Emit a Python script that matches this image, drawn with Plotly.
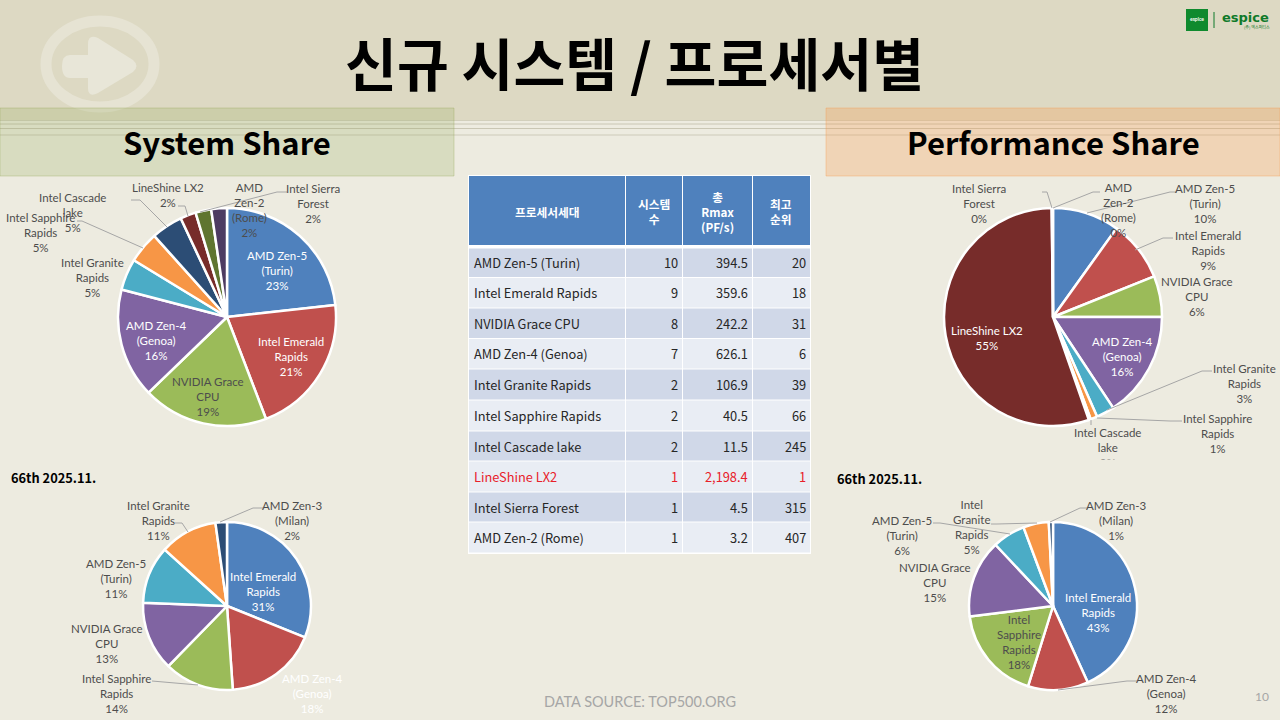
import plotly.graph_objects as go

# table / pie data
processors = ["AMD Zen-5 (Turin)", "Intel Emerald Rapids", "NVIDIA Grace CPU", "AMD Zen-4 (Genoa)",
              "Intel Granite Rapids", "Intel Sapphire Rapids", "Intel Cascade lake", "LineShine LX2",
              "Intel Sierra Forest", "AMD Zen-2 (Rome)"]
system_counts = [10, 9, 8, 7, 2, 2, 2, 1, 1, 1]
rmax_values = [394.5, 359.6, 242.2, 626.1, 106.9, 40.5, 11.5, 2198.4, 4.5, 3.2]
best_ranks = [20, 18, 31, 6, 39, 66, 245, 1, 315, 407]

prev_processors = ["Intel Emerald Rapids", "AMD Zen-4 (Genoa)", "Intel Sapphire Rapids", "NVIDIA Grace CPU",
                   "AMD Zen-5 (Turin)", "Intel Granite Rapids", "AMD Zen-3 (Milan)"]
prev_system_share = [31.1, 17.8, 13.4, 13.3, 11.1, 11.1, 2.2]
prev_perf_share = [43.2, 11.6, 18.2, 15.0, 6.3, 4.9, 0.8]

table_header = ["프로세서세대", "시스템<br>수", "총<br>Rmax<br>(PF/s)", "최고<br>순위"]

main_title = "신규 시스템 / 프로세서별"
left_title = "System Share"
right_title = "Performance Share"
list_label = "66th 2025.11."
source_text = "DATA SOURCE: TOP500.ORG"
page_number = "10"

slice_colors = ["#4F81BD", "#C0504D", "#9BBB59", "#8064A2", "#4BACC6",
                "#F79646", "#2C4D75", "#772C2A", "#5F7530", "#4D3B62"]

W = 1280
H = 720
BG = "#EDEBE0"
BAND = "#DDD9C3"
DARK = "#4D4D4D"
LABEL_FONT = "Lato"
KR_FONT = "Noto Sans CJK KR"

# table grid in slide pixels
col_edges = [469, 625, 682, 752, 810]
row_edges = [248, 277.5, 308, 338.5, 369, 400, 431, 461, 492, 522, 553]
HEADER_TOP = 176
HEADER_BOTTOM = 245


def px(x):
    return x / W


def py(y):
    return 1 - y / H


def pie(values, labels, cx, cy, r):
    # circle position is set by the domain, margins are zero so pixels map 1:1
    return go.Pie(values=values, labels=labels, sort=False, direction="clockwise", rotation=0,
                  textinfo="none", showlegend=False, hoverinfo="label+percent",
                  marker=dict(colors=slice_colors[:len(values)], line=dict(color="white", width=2.5)),
                  domain=dict(x=[px(cx - r), px(cx + r)], y=[py(cy + r), py(cy - r)]))


def text(x, y, s, size=11.5, color=DARK, font=LABEL_FONT, xanchor="center"):
    return dict(x=px(x), y=py(y), xref="paper", yref="paper", text=s, showarrow=False,
                xanchor=xanchor, yanchor="middle", align="center",
                font=dict(size=size, color=color, family=font))


def leader(points):
    path = "M " + " L ".join(f"{px(x)} {py(y)}" for x, y in points)
    return dict(type="path", xref="paper", yref="paper", path=path, layer="above",
                line=dict(color="#A6A6A6", width=1))


def rect(x0, y0, x1, y1, fill, line_color=None):
    return dict(type="rect", xref="paper", yref="paper", x0=px(x0), x1=px(x1), y0=py(y0), y1=py(y1),
                fillcolor=fill, layer="below",
                line=dict(color=line_color or fill, width=1 if line_color else 0))


fig = go.Figure()
fig.add_trace(pie(system_counts, processors, 227, 317, 109))
fig.add_trace(pie(rmax_values, processors, 1053, 317, 109))
fig.add_trace(pie(prev_system_share, prev_processors, 227, 606, 84))
fig.add_trace(pie(prev_perf_share, prev_processors, 1053, 606, 84))

# arrow badge outline, pixel coords
arrow = ("M {} {} L {} {} L {} {} Q {} {} {} {} L {} {} Q {} {} {} {} L {} {} Q {} {} {} {} "
         "L {} {} L {} {} Q {} {} {} {} Q {} {} {} {} Z")
arrow_pts = [(70, 55), (88, 55), (88, 44), (88, 34), (98, 38), (133, 60), (140, 66), (133, 72),
             (98, 93), (88, 98), (88, 88), (88, 78), (70, 78), (62, 78), (62, 66), (62, 55), (70, 55)]
arrow_path = arrow.format(*[v for x, y in arrow_pts for v in (px(x), py(y))])

shapes = [
    rect(0, 0, W, 120, BAND),
    dict(type="circle", xref="paper", yref="paper", x0=px(46), x1=px(154), y0=py(107), y1=py(21),
         fillcolor="rgba(0,0,0,0)", line=dict(color="#E6E3D3", width=11), layer="below"),
    dict(type="path", xref="paper", yref="paper", layer="below", fillcolor="#E8E6D8",
         line=dict(width=0), path=arrow_path),
]
# thin stripes under the title band
for y, c in [(120.5, "#D2CFBC"), (124, "#C9C6B4"), (128.5, "#C9C6B4"), (135, "#CDCAB9")]:
    shapes.append(dict(type="line", xref="paper", yref="paper", x0=0, x1=1, y0=py(y), y1=py(y),
                       line=dict(color=c, width=1), layer="below"))
shapes += [
    rect(0, 108, 454, 176, "rgba(150,170,90,0.24)", "rgba(150,170,90,0.35)"),
    rect(826, 108, W, 176, "rgba(247,150,70,0.27)", "rgba(247,150,70,0.35)"),
    # logo
    rect(1186, 9, 1208, 31, "#0F8A2E"),
    dict(type="line", xref="paper", yref="paper", x0=px(1214), x1=px(1214), y0=py(12), y1=py(28),
         line=dict(color="#0F7A2A", width=1), layer="below"),
]

# table: white backing, then header and row cells
shapes.append(rect(col_edges[0] - 1, HEADER_TOP - 1, col_edges[-1] + 1, row_edges[-1] + 1, "white"))
for c in range(4):
    x0 = col_edges[c] + (1 if c else 0)
    x1 = col_edges[c + 1]
    shapes.append(rect(x0, HEADER_TOP, x1, HEADER_BOTTOM, "#4F81BD"))
    for r in range(len(processors)):
        fill = "#D0D8E8" if r % 2 == 0 else "#E9EDF4"
        shapes.append(rect(x0, row_edges[r] + 0.5, x1, row_edges[r + 1] - 0.5, fill))

# leader lines, pixel positions picked off the slide
for pts in [
    [(131, 200), (140, 200), (167, 227)],
    [(178, 206), (185, 206), (188, 216)],
    [(287, 192), (277, 192), (200, 212)],
    [(77, 221), (82, 221), (143, 248)],
    [(1042, 192), (1047, 192), (1052, 208)],
    [(1100, 192), (1093, 192), (1053, 208)],
    [(1177, 192), (1170, 192), (1087, 213)],
    [(1173, 238), (1163, 238), (1135, 250)],
    [(1212, 371), (1202, 371), (1107, 410)],
    [(1182, 421), (1170, 421), (1097, 418)],
    [(1091, 425), (1091, 420)],
    [(175, 523), (182, 523), (188, 532)],
    [(263, 508), (253, 508), (220, 522)],
    [(152, 681), (198, 685)],
    [(933, 523), (940, 523), (1010, 534)],
    [(991, 524), (997, 524), (1037, 523)],
    [(1088, 508), (1080, 508), (1050, 522)],
    [(1137, 681), (1127, 681), (1058, 690)],
]:
    shapes.append(leader(pts))

notes = [
    text(634, 61, f"<b>{main_title}</b>", size=56.4, color="black", font=KR_FONT),
    text(227, 141.5, f"<b>{left_title}</b>", size=31, color="black", font=KR_FONT),
    text(1053, 141.5, f"<b>{right_title}</b>", size=31, color="black", font=KR_FONT),
    text(8.5, 477.5, f"<b>{list_label}</b>", size=12.8, color="black", font=KR_FONT, xanchor="left"),
    text(835, 478.5, f"<b>{list_label}</b>", size=12.8, color="black", font=KR_FONT, xanchor="left"),
    text(640, 701, source_text, size=14.5, color="#A6A6A6"),
    text(1262, 696, page_number, size=12, color="#A6A6A6"),
    # logo text
    text(1197, 19, "<b>espice</b>", size=5, color="white"),
    text(1245, 17, "<b>espice</b>", size=13, color="#0F7A2A", font="DejaVu Sans"),
    text(1257, 27, "(주) 엑스퍼티스", size=4, color="#0F7A2A", font=KR_FONT),
    # top left pie
    text(277, 270, "AMD Zen-5<br>(Turin)<br>23%", color="white"),
    text(291, 356, "Intel Emerald<br>Rapids<br>21%", color="white"),
    text(208, 396, "NVIDIA Grace<br>CPU<br>19%"),
    text(156, 340, "AMD Zen-4<br>(Genoa)<br>16%", color="white"),
    text(92, 277, "Intel Granite<br>Rapids<br>5%"),
    text(40, 233, "Intel Sapphire<br>Rapids<br>5%"),
    text(72, 212, "Intel Cascade<br>lake<br>5%"),
    text(168, 195, "LineShine LX2<br>2%"),
    text(249, 210, "AMD<br>Zen-2<br>(Rome)<br>2%"),
    text(313, 203, "Intel Sierra<br>Forest<br>2%"),
    # top right pie
    text(979, 203, "Intel Sierra<br>Forest<br>0%"),
    text(1118, 210, "AMD<br>Zen-2<br>(Rome)<br>0%"),
    text(1205, 203, "AMD Zen-5<br>(Turin)<br>10%"),
    text(1208, 250, "Intel Emerald<br>Rapids<br>9%"),
    text(1197, 296, "NVIDIA Grace<br>CPU<br>6%"),
    text(1122, 356, "AMD Zen-4<br>(Genoa)<br>16%", color="white"),
    text(1244, 383, "Intel Granite<br>Rapids<br>3%"),
    text(1217, 433, "Intel Sapphire<br>Rapids<br>1%"),
    text(1107, 447, "Intel Cascade<br>lake<br>0%"),
    # the text box on the slide cuts this label off, same here
    dict(x=px(1107), y=py(459), xref="paper", yref="paper", text=" ", showarrow=False, xanchor="center",
         yanchor="top", width=40, height=14, bgcolor=BG, font=dict(size=10)),
    text(987, 338, "LineShine LX2<br>55%", color="white"),
    # bottom left pie
    text(263, 591, "Intel Emerald<br>Rapids<br>31%", color="white"),
    text(312, 693, "AMD Zen-4<br>(Genoa)<br>18%", color="white"),
    text(116, 693, "Intel Sapphire<br>Rapids<br>14%"),
    text(107, 643, "NVIDIA Grace<br>CPU<br>13%"),
    text(116, 578, "AMD Zen-5<br>(Turin)<br>11%"),
    text(158, 520, "Intel Granite<br>Rapids<br>11%"),
    text(292, 520, "AMD Zen-3<br>(Milan)<br>2%"),
    # bottom right pie
    text(1098, 612, "Intel Emerald<br>Rapids<br>43%", color="white"),
    text(1166, 693, "AMD Zen-4<br>(Genoa)<br>12%"),
    text(1019, 642, "Intel<br>Sapphire<br>Rapids<br>18%"),
    text(935, 582, "NVIDIA Grace<br>CPU<br>15%"),
    text(902, 535, "AMD Zen-5<br>(Turin)<br>6%"),
    text(971, 527, "Intel<br>Granite<br>Rapids<br>5%"),
    text(1116, 520, "AMD Zen-3<br>(Milan)<br>1%"),
]

# table text
for c, head in enumerate(table_header):
    notes.append(text((col_edges[c] + col_edges[c + 1]) / 2, 211.5, f"<b>{head}</b>", size=11.7,
                      color="white", font=KR_FONT))
for r, name in enumerate(processors):
    y = (row_edges[r] + row_edges[r + 1]) / 2
    color = "#E8202A" if name == "LineShine LX2" else "#262626"
    notes.append(text(col_edges[0] + 3, y, name, size=12.8, color=color, font=KR_FONT, xanchor="left"))
    row_vals = [system_counts[r], f"{rmax_values[r]:,.1f}", best_ranks[r]]
    for c, val in enumerate(row_vals):
        notes.append(text(col_edges[c + 2] - 2, y, str(val), size=12.8, color=color, font=KR_FONT, xanchor="right"))

fig.update_layout(width=W, height=H, margin=dict(l=0, r=0, t=0, b=0), paper_bgcolor=BG,
                  shapes=shapes, annotations=notes)

fig.write_html("out.html", config=dict(displayModeBar=False),
               post_script="document.body.style.margin='0';")
